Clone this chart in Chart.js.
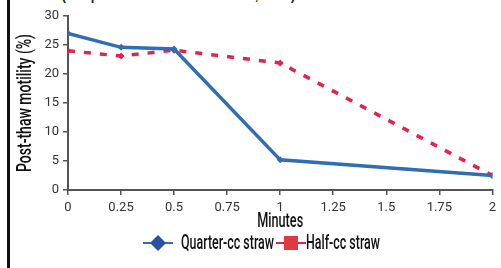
<!DOCTYPE html>
<html>
<head>
<meta charset="utf-8">
<script src="https://cdn.jsdelivr.net/npm/chart.js@4/dist/chart.umd.min.js"></script>
<style>
  html, body { margin: 0; padding: 0; background: #fff; }
  #wrap { position: relative; width: 501px; height: 268px; overflow: hidden; background: #fff; }
  #bar { position: absolute; left: 7px; top: 0; width: 3px; height: 268px; background: #111; }
  #cap { position: absolute; left: 17px; top: -12px; font: bold 13px "Liberation Sans", Arial, sans-serif; color: #222; white-space: nowrap; }
  canvas { position: absolute; left: 0; top: 0; }
</style>
</head>
<body>
<div id="wrap">
  <div id="cap">straws (Adapted from Donaldson et al., 1998).</div>
  <div id="bar"></div>
  <canvas id="c" width="501" height="268"></canvas>
</div>
<script>
const minutes = [0, 0.25, 0.5, 1, 2];
const quarterCc = [27.0, 24.6, 24.3, 5.2, 2.5];
const halfCc = [24.0, 23.1, 24.1, 21.9, 2.5];
const seriesNames = ["Quarter-cc straw", "Half-cc straw"];
const yTitle = "Post-thaw motility (%)";
const xTitle = "Minutes";

const FONT = 'Roboto, "DejaVu Sans", sans-serif';

function condensedText(ctx, text, x, y, width, rot) {
  ctx.save();
  ctx.translate(x, y);
  if (rot) ctx.rotate(rot);
  const w = ctx.measureText(text).width;
  ctx.scale(width / w, 1);
  ctx.fillText(text, 0, 0);
  ctx.restore();
}

const textPlugin = {
  id: 'customText',
  afterDraw(chart) {
    const ctx = chart.ctx;
    const ca = chart.chartArea;
    ctx.save();
    ctx.fillStyle = '#111';
    ctx.textBaseline = 'middle';
    ctx.textAlign = 'center';
    ctx.font = '500 21px ' + FONT;
    // axis titles
    condensedText(ctx, xTitle, (ca.left + ca.right) / 2, 222, 46, 0);
    condensedText(ctx, yTitle, 26, (ca.top + ca.bottom) / 2, 138, -Math.PI / 2);

    // legend
    const items = [
      { x: 158, text: seriesNames[0], ds: chart.data.datasets[0], marker: 'diamond', mcol: '#2a52a3', tx: 181, tw: 93 },
      { x: 291, text: seriesNames[1], ds: chart.data.datasets[1], marker: 'square', mcol: '#e0393f', tx: 306, tw: 74 }
    ];
    const y = 243;
    items.forEach(it => {
      ctx.strokeStyle = it.ds.borderColor;
      ctx.lineWidth = 2;
      ctx.beginPath();
      ctx.moveTo(it.x - 15, y); ctx.lineTo(it.x + 15, y); ctx.stroke();
      ctx.fillStyle = it.mcol;
      ctx.beginPath();
      if (it.marker === 'diamond') {
        ctx.moveTo(it.x, y - 8); ctx.lineTo(it.x + 8, y); ctx.lineTo(it.x, y + 8); ctx.lineTo(it.x - 8, y);
      } else {
        ctx.rect(it.x - 7, y - 7, 14, 14);
      }
      ctx.closePath(); ctx.fill();
      ctx.fillStyle = '#111';
      ctx.textAlign = 'left';
      ctx.font = '500 21px ' + FONT;
      condensedText(ctx, it.text, it.tx, y + 1, it.tw, 0);
    });
    ctx.restore();
  }
};

new Chart(document.getElementById('c'), {
  type: 'line',
  data: {
    datasets: [
      {
        label: seriesNames[0],
        data: minutes.map((m, i) => ({ x: m, y: quarterCc[i] })),
        borderColor: '#2f6db5',
        backgroundColor: '#2f6db5',
        borderWidth: 3.5,
        pointStyle: 'rectRot',
        pointRadius: 3.5,
        pointBorderWidth: 0,
        tension: 0,
        order: 1
      },
      {
        label: seriesNames[1],
        data: minutes.map((m, i) => ({ x: m, y: halfCc[i] })),
        borderColor: '#e3234c',
        backgroundColor: '#e3234c',
        borderWidth: 3.5,
        borderDash: [7, 9],
        pointStyle: 'rectRot',
        pointRadius: 3.5,
        pointBorderWidth: 0,
        tension: 0,
        order: 2
      }
    ]
  },
  options: {
    responsive: false,
    animation: false,
    devicePixelRatio: 1,
    layout: { padding: { left: 12, right: 8, top: 16, bottom: 33 } },
    plugins: { legend: { display: false }, tooltip: { enabled: false } },
    scales: {
      x: {
        type: 'linear',
        min: 0, max: 2,
        ticks: { stepSize: 0.25, color: '#333', font: { family: FONT, size: 13 }, padding: 5, maxRotation: 0, autoSkip: false,
                 callback: v => String(v) },
        grid: { drawOnChartArea: false, drawTicks: true, tickLength: 5, color: '#555', lineWidth: 1.5 },
        border: { color: '#555', width: 2 },
        afterFit(s) { s.height = 45; }
      },
      y: {
        min: 0, max: 30,
        ticks: { stepSize: 5, color: '#333', font: { family: FONT, size: 13 }, padding: 4 },
        grid: { drawOnChartArea: false, drawTicks: true, tickLength: 5, color: '#555', lineWidth: 1.5 },
        border: { color: '#555', width: 2 },
        afterFit(s) { s.width = 56; }
      }
    }
  },
  plugins: [textPlugin]
});
</script>
</body>
</html>
